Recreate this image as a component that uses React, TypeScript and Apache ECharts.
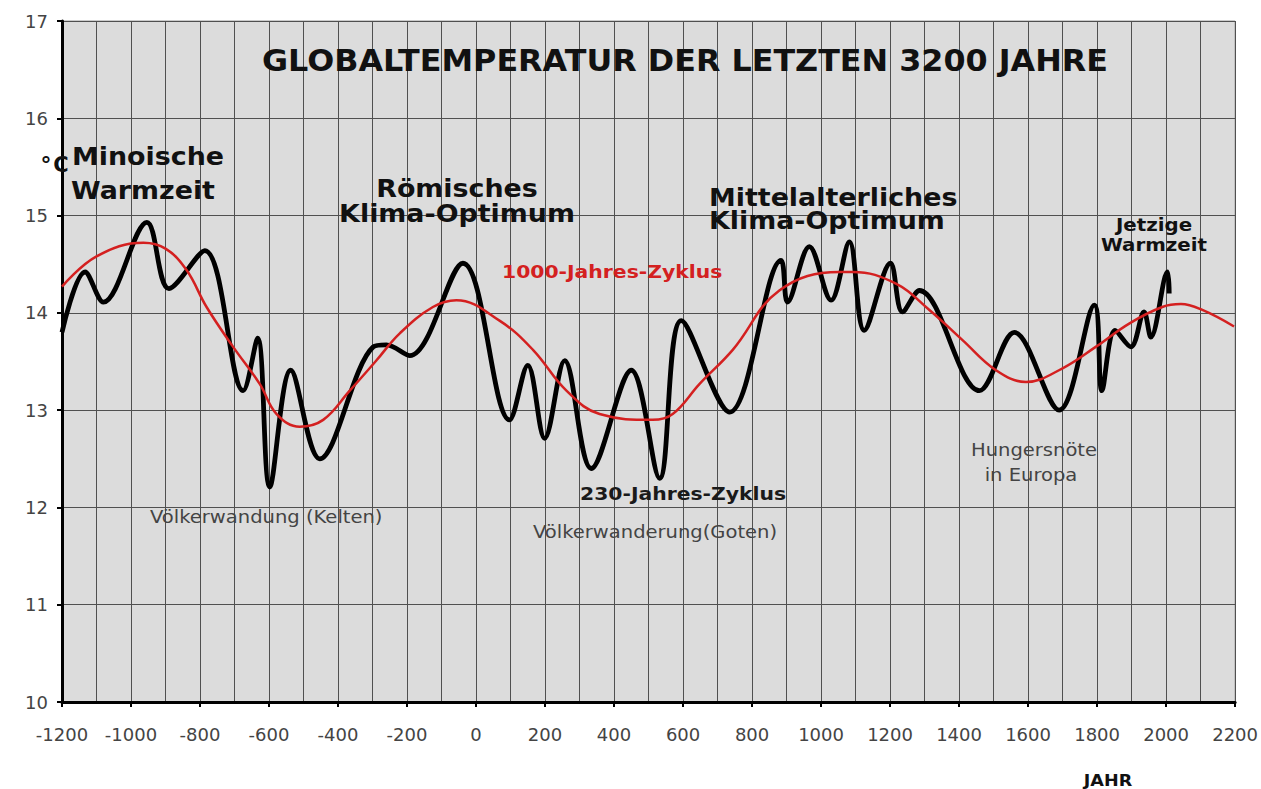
import React, { useEffect, useRef } from "react";
import * as echarts from "echarts";

// Years and temperatures (°C) of the 230-year cycle curve (black)
const blackYears = [-1200, -1133, -1080, -954, -890, -786, -675, -633, -598, -537, -453, -298, -260, -192, -38, 97, 150, 199, 257, 334, 450, 532, 595, 735, 884, 903, 966, 1029, 1082, 1125, 1201, 1236, 1285, 1459, 1560, 1690, 1792, 1814, 1852, 1898, 1936, 1956, 2004, 2009];
const blackTemps = [13.8, 14.42, 14.11, 14.93, 14.25, 14.64, 13.2, 13.74, 12.21, 13.41, 12.5, 13.65, 13.67, 13.56, 14.51, 12.9, 13.46, 12.71, 13.51, 12.4, 13.41, 12.3, 13.92, 12.98, 14.54, 14.11, 14.68, 14.13, 14.73, 13.82, 14.51, 14.01, 14.23, 13.2, 13.8, 13.0, 14.08, 13.2, 13.82, 13.65, 14.01, 13.75, 14.42, 14.2];

// 1000-year cycle curve (red)
const redYears = [-1200, -1100, -964, -900, -839, -781, -704, -627, -578, -511, -443, -366, -289, -221, -125, -57, 68, 165, 262, 358, 512, 570, 648, 744, 879, 1053, 1092, 1217, 1314, 1410, 1507, 1594, 1700, 1796, 1893, 1989, 2043, 2105, 2197];
const redTemps = [14.27, 14.58, 14.72, 14.66, 14.44, 14.06, 13.65, 13.27, 12.96, 12.83, 12.9, 13.2, 13.51, 13.79, 14.06, 14.13, 13.92, 13.62, 13.2, 12.96, 12.9, 12.96, 13.27, 13.62, 14.23, 14.42, 14.42, 14.3, 14.03, 13.72, 13.41, 13.29, 13.43, 13.65, 13.89, 14.06, 14.09, 14.03, 13.86];

const xMin = -1200;
const xMax = 2200;
const yMin = 10;
const yMax = 17;

const FONT = "DejaVu Sans";

type Txt = { text: string; x: number; y: number; size: number; bold?: boolean; color?: string; align?: string; sx?: number };

const labels: Txt[] = [
  { text: "GLOBALTEMPERATUR DER LETZTEN 3200 JAHRE", x: 685, y: 60, size: 30, bold: true, color: "#111", align: "center", sx: 1.06 },
  { text: "°", x: 46, y: 164, size: 22, bold: true, color: "#111", align: "center", sx: 1.0 },
  { text: "C", x: 61, y: 165, size: 21, bold: true, color: "#111", align: "center", sx: 1.0 },
  { text: "Minoische", x: 72, y: 157, size: 24, bold: true, color: "#111", align: "left", sx: 1.12 },
  { text: "Warmzeit", x: 71, y: 191, size: 24, bold: true, color: "#111", align: "left", sx: 1.12 },
  { text: "Römisches", x: 457, y: 189, size: 24, bold: true, color: "#111", align: "center", sx: 1.12 },
  { text: "Klima-Optimum", x: 457, y: 214, size: 24, bold: true, color: "#111", align: "center", sx: 1.12 },
  { text: "Mittelalterliches", x: 709, y: 198, size: 24, bold: true, color: "#111", align: "left", sx: 1.12 },
  { text: "Klima-Optimum", x: 709, y: 221, size: 24, bold: true, color: "#111", align: "left", sx: 1.12 },
  { text: "Jetzige", x: 1154, y: 224, size: 18, bold: true, color: "#111", align: "center", sx: 1.1 },
  { text: "Warmzeit", x: 1154, y: 244, size: 18, bold: true, color: "#111", align: "center", sx: 1.1 },
  { text: "1000-Jahres-Zyklus", x: 502, y: 272, size: 18.5, bold: true, color: "#d42020", align: "left", sx: 1.1 },
  { text: "230-Jahres-Zyklus", x: 580, y: 494, size: 18.5, bold: true, color: "#1a1a1a", align: "left", sx: 1.1 },
  { text: "Völkerwandung (Kelten)", x: 150, y: 517, size: 17, color: "#444", align: "left", sx: 1.15 },
  { text: "Völkerwanderung(Goten)", x: 533, y: 532, size: 17, color: "#444", align: "left", sx: 1.15 },
  { text: "Hungersnöte", x: 1034, y: 450, size: 17, color: "#444", align: "center", sx: 1.15 },
  { text: "in Europa", x: 1031, y: 475, size: 17, color: "#444", align: "center", sx: 1.15 },
  { text: "JAHR", x: 1108, y: 780, size: 16, bold: true, color: "#111", align: "center", sx: 1.1 },
];

export default function App() {
  const ref = useRef<HTMLDivElement>(null);
  useEffect(() => {
    if (!ref.current) return;
    const chart = echarts.init(ref.current, null, { renderer: "svg" });
    const black = blackYears.map((y, i) => [y, blackTemps[i]]);
    const red = redYears.map((y, i) => [y, redTemps[i]]);
    chart.setOption({
      animation: false,
      backgroundColor: "#ffffff",
      grid: {
        left: 62,
        right: 25,
        top: 21,
        bottom: 87,
        show: true,
        backgroundColor: "#dcdcdc",
        borderColor: "#999",
        borderWidth: 1,
      },
      xAxis: {
        type: "value",
        min: xMin,
        max: xMax,
        interval: 200,
        axisLine: { show: true, onZero: false, lineStyle: { color: "#000", width: 3 } },
        axisTick: { show: true, length: 5, lineStyle: { color: "#000", width: 2 } },
        axisLabel: {
          color: "#444",
          fontSize: 18,
          margin: 23,
          fontFamily: FONT,
          formatter: (v: number) => String(v),
        },
        splitLine: { show: true, lineStyle: { color: "#505050", width: 1 } },
        minorTick: { show: false, splitNumber: 2 },
        minorSplitLine: { show: true, lineStyle: { color: "#505050", width: 1 } },
      },
      yAxis: {
        type: "value",
        min: yMin,
        max: yMax,
        interval: 1,
        axisLine: { show: true, onZero: false, lineStyle: { color: "#000", width: 3 } },
        axisTick: { show: true, length: 5, lineStyle: { color: "#000", width: 2 } },
        axisLabel: { color: "#444", fontSize: 18, margin: 14, fontFamily: FONT },
        splitLine: { show: true, lineStyle: { color: "#505050", width: 1 } },
      },
      series: [
        {
          type: "line",
          data: black,
          smooth: 0.35,
          showSymbol: false,
          lineStyle: { color: "#000", width: 4.8 },
          z: 3,
        },
        {
          type: "line",
          data: red,
          smooth: 0.4,
          showSymbol: false,
          lineStyle: { color: "#d42020", width: 2.5 },
          z: 4,
        },
      ],
      graphic: labels.map((l) => ({
        type: "text",
        x: l.x,
        y: l.y,
        scaleX: l.sx ?? 1,
        z: 10,
        style: {
          text: l.text,
          fill: l.color ?? "#111",
          font: `${l.bold ? "bold " : ""}${l.size}px "${FONT}"`,
          textAlign: l.align ?? "left",
          textVerticalAlign: "middle",
        },
      })),
    });
    return () => chart.dispose();
  }, []);
  return (
    <div
      ref={ref}
      style={{ position: "absolute", left: 0, top: 0, width: 1261, height: 789, background: "#fff" }}
    />
  );
}
